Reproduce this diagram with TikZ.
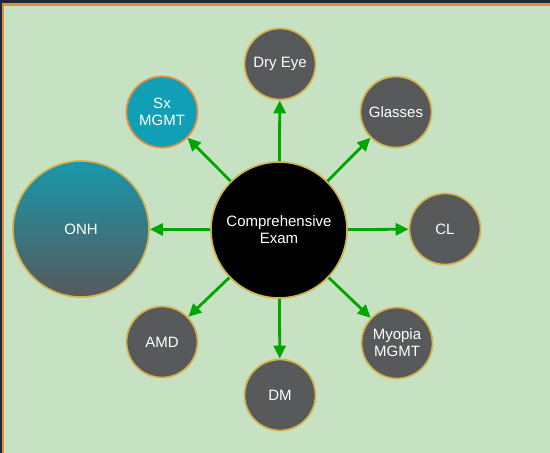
\documentclass[tikz,border=0pt]{standalone}
\usepackage{fontspec}
\setmainfont{Liberation Sans}
\usetikzlibrary{positioning}
\usetikzlibrary{arrows.meta}
\definecolor{paper}{RGB}{198,226,194}
\definecolor{slate}{RGB}{88,89,91}
\definecolor{rim}{RGB}{212,178,78}
\definecolor{lagoon}{RGB}{16,159,181}
\definecolor{amber}{RGB}{228,142,60}
\definecolor{leaf}{RGB}{0,166,0}
\definecolor{navy}{RGB}{30,40,56}

\tikzset{
  topic/.style={circle, draw=rim, line width=1.7pt, fill=slate, text=white,
    minimum size=71pt, inner sep=0pt, align=center,
    font=\fontsize{15}{17}\selectfont},
  hub/.style={topic, fill=black, minimum size=136pt},
  link/.style={draw=leaf, line width=2.8pt, -{Triangle[length=13pt,width=12pt]}}
}

\begin{document}
\begin{tikzpicture}[x=1pt,y=-1pt]

  % frame
  \fill[paper] (0,0) rectangle (550,453);
  \fill[navy] (0,0) rectangle (550,3);
  \fill[navy] (0,0) rectangle (2,453);
  \fill[amber] (2,3) rectangle (550,6);
  \fill[amber] (2,3) rectangle (4,453);
  \useasboundingbox (0,0) rectangle (550,453);

  % hub
  \node[hub] (exam) at (279,230) {Comprehensive\\Exam};

  % upper half
  \node[topic] (dry) at (280,64) {Dry Eye};
  \node[topic] (glasses) at (396,112) {Glasses};
  \node[topic, fill=lagoon, draw=amber] (sx) at (162,112) {Sx\\MGMT};

  % sides
  \node[topic, minimum size=136pt, top color=lagoon!90!slate,
    bottom color=slate] (onh) at (81,229) {ONH};
  \node[topic] (cl) at (445,229) {CL};

  % lower half
  \node[topic] (amd) at (162,342) {AMD};
  \node[topic] (dm) at (280,395) {DM};
  \node[topic] (myopia) at (397,343) {Myopia\\MGMT};

  \draw[link] (exam) -- (dry);
  \draw[link] (exam) -- (glasses);
  \draw[link] (exam) -- (cl);
  \draw[link] (exam) -- (myopia);
  \draw[link] (exam) -- (dm);
  \draw[link] (exam) -- (amd);
  \draw[link] (exam) -- (onh);
  \draw[link] (exam) -- (sx);

\end{tikzpicture}
\end{document}
